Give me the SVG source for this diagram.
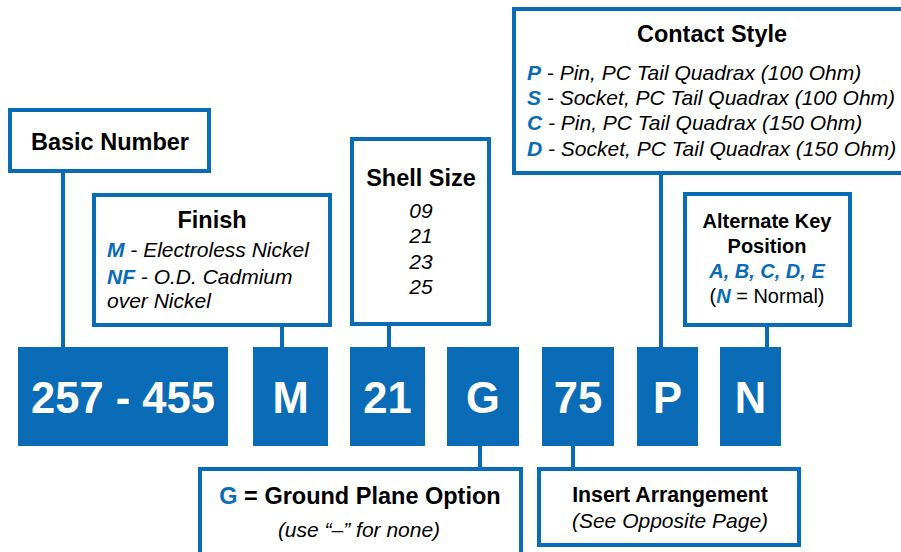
<svg xmlns="http://www.w3.org/2000/svg" width="901" height="552" viewBox="0 0 901 552">
<style>
.box{fill:#fff;stroke:#0a6cb7;stroke-width:4}
.blk{fill:#0a6cb7}
.con{stroke:#0a6cb7;stroke-width:4;fill:none}
text{font-family:"Liberation Sans",Arial,sans-serif;fill:#000}
.t{font-weight:bold;font-size:23.5px;text-anchor:middle}
.i{font-style:italic;font-size:21px}
.b{fill:#0a6cb7;font-weight:bold}
.code{fill:#fff;font-weight:bold;font-size:43.5px;text-anchor:middle}
</style>
<rect width="901" height="552" fill="#fff"/>
<g id="connectors">
<line class="con" x1="63" y1="172" x2="63" y2="347"/>
<line class="con" x1="282" y1="325" x2="282" y2="347"/>
<line class="con" x1="389" y1="324" x2="389" y2="347"/>
<line class="con" x1="661" y1="173" x2="661" y2="347"/>
<line class="con" x1="767" y1="325" x2="767" y2="347"/>
<line class="con" x1="480" y1="446" x2="480" y2="469"/>
<line class="con" x1="573" y1="446" x2="573" y2="469"/>
</g>
<g id="basic-number">
<rect class="box" x="10" y="110" width="199" height="61"/>
<text class="t" x="110" y="150">Basic Number</text>
</g>
<g id="finish">
<rect class="box" x="94" y="195" width="236" height="130"/>
<text class="t" x="212" y="228">Finish</text>
<text class="i" x="107" y="257"><tspan class="b">M</tspan> - Electroless Nickel</text>
<text class="i" x="107" y="284"><tspan class="b">NF</tspan> - O.D. Cadmium</text>
<text class="i" x="107" y="308">over Nickel</text>
</g>
<g id="shell-size">
<rect class="box" x="352" y="139" width="137" height="185"/>
<text class="t" x="421" y="186">Shell Size</text>
<text class="i" x="421" y="218" text-anchor="middle">09</text>
<text class="i" x="421" y="243" text-anchor="middle">21</text>
<text class="i" x="421" y="269" text-anchor="middle">23</text>
<text class="i" x="421" y="294" text-anchor="middle">25</text>
</g>
<g id="contact-style">
<rect class="box" x="514" y="9" width="395" height="164"/>
<text class="t" x="712" y="42">Contact Style</text>
<text class="i" x="527" y="80"><tspan class="b">P</tspan> - Pin, PC Tail Quadrax (100 Ohm)</text>
<text class="i" x="527" y="105"><tspan class="b">S</tspan> - Socket, PC Tail Quadrax (100 Ohm)</text>
<text class="i" x="527" y="130"><tspan class="b">C</tspan> - Pin, PC Tail Quadrax (150 Ohm)</text>
<text class="i" x="527" y="156"><tspan class="b">D</tspan> - Socket, PC Tail Quadrax (150 Ohm)</text>
</g>
<g id="alternate-key">
<rect class="box" x="685" y="194" width="165" height="131"/>
<text class="t" x="767" y="228" style="font-size:20px">Alternate Key</text>
<text class="t" x="767" y="253" style="font-size:20px">Position</text>
<text class="t i" x="767" y="278" style="font-size:20px;fill:#0a6cb7">A, B, C, D, E</text>
<text x="767" y="303" text-anchor="middle" style="font-size:20px">(<tspan class="b" font-style="italic">N</tspan> = Normal)</text>
</g>
<g id="ground-plane">
<rect class="box" x="200" y="469" width="321" height="100"/>
<text class="t" x="360" y="504"><tspan class="b">G</tspan> = Ground Plane Option</text>
<text class="i" x="359" y="537" text-anchor="middle">(use “–” for none)</text>
</g>
<g id="insert-arrangement">
<rect class="box" x="539" y="469" width="260" height="76"/>
<text class="t" x="670" y="502" style="font-size:21.3px">Insert Arrangement</text>
<text class="i" x="670" y="528" text-anchor="middle">(See Opposite Page)</text>
</g>
<g id="code-257-455"><rect class="blk" x="18" y="347" width="210" height="99"/><text class="code" x="123" y="413">257 - 455</text></g>
<g id="code-M"><rect class="blk" x="253" y="347" width="75" height="99"/><text class="code" x="290.5" y="413">M</text></g>
<g id="code-21"><rect class="blk" x="350" y="347" width="75" height="99"/><text class="code" x="387.5" y="413">21</text></g>
<g id="code-G"><rect class="blk" x="447" y="347" width="72" height="99"/><text class="code" x="483" y="413">G</text></g>
<g id="code-75"><rect class="blk" x="542" y="347" width="72" height="99"/><text class="code" x="578" y="413">75</text></g>
<g id="code-P"><rect class="blk" x="637" y="347" width="61" height="99"/><text class="code" x="667.5" y="413">P</text></g>
<g id="code-N"><rect class="blk" x="720" y="347" width="61" height="99"/><text class="code" x="750.5" y="413">N</text></g>
</svg>
